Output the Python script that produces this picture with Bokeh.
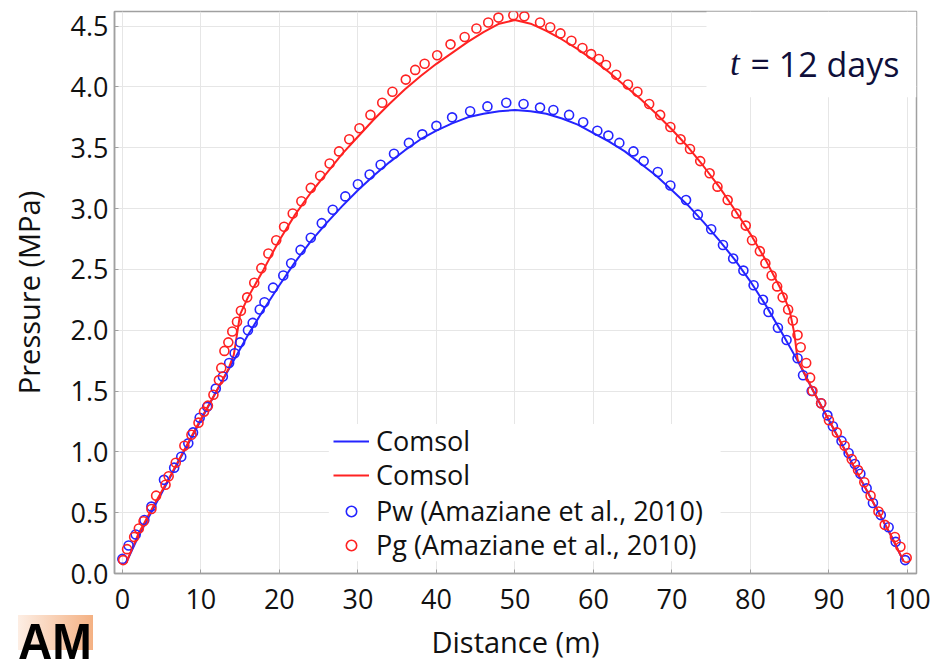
from bokeh.plotting import figure
from bokeh.layouts import column
from bokeh.models import (Range1d, FixedTicker, PrintfTickFormatter,
                          Legend, LegendItem, Label, BoxAnnotation, Div)
from bokeh.embed import file_html
from bokeh.resources import INLINE

# ---------------- data ----------------
x_ticks = [0, 10, 20, 30, 40, 50, 60, 70, 80, 90, 100]
y_ticks = [0.0, 0.5, 1.0, 1.5, 2.0, 2.5, 3.0, 3.5, 4.0, 4.5]
x_label = "Distance (m)"
y_label = "Pressure (MPa)"
legend_labels = ["Comsol", "Comsol", "Pw (Amaziane et al., 2010)",
                 "Pg (Amaziane et al., 2010)"]

# Comsol, water pressure (blue line)
cw_x = [0.5, 2, 4, 6, 8, 10, 12, 14, 16, 18, 20, 22, 24, 26, 28, 30, 32, 34, 36, 38,
        40, 42, 44, 46, 48, 50, 52, 54, 56, 58, 60, 62, 64, 66, 68, 70, 72, 74, 76, 78,
        80, 82, 84, 86, 88, 90, 92, 94, 96, 98, 99.5]
cw_y = [0.09, 0.30, 0.54, 0.78, 1.02, 1.26, 1.50, 1.73, 1.96, 2.17, 2.37, 2.56, 2.73, 2.88,
        3.02, 3.15, 3.27, 3.38, 3.48, 3.57, 3.64, 3.70, 3.75, 3.78, 3.80, 3.81, 3.80, 3.78,
        3.74, 3.69, 3.62, 3.55, 3.47, 3.37, 3.27, 3.15, 3.03, 2.89, 2.74, 2.58, 2.40, 2.20,
        1.98, 1.75, 1.50, 1.26, 1.02, 0.78, 0.54, 0.30, 0.10]

# Comsol, gas pressure (red line)
cg_x = [0.5, 2, 4, 6, 8, 10, 12, 13.5, 14.2, 15, 16, 18, 20, 22, 24, 26, 28, 30, 32, 34,
        36, 38, 40, 42, 44, 46, 48, 50, 52, 54, 56, 58, 60, 62, 64, 66, 68, 70, 72, 74,
        76, 78, 80, 82, 84, 85, 85.6, 86, 88, 90, 92, 94, 96, 98, 99.5]
cg_y = [0.09, 0.32, 0.56, 0.79, 1.03, 1.27, 1.50, 1.68, 1.80, 2.13, 2.27, 2.50, 2.74, 2.95,
        3.13, 3.29, 3.45, 3.59, 3.73, 3.86, 3.98, 4.09, 4.19, 4.28, 4.37, 4.45, 4.52, 4.55,
        4.52, 4.46, 4.39, 4.31, 4.22, 4.12, 4.01, 3.90, 3.78, 3.65, 3.51, 3.35, 3.18, 2.99,
        2.79, 2.57, 2.32, 2.16, 1.97, 1.76, 1.50, 1.26, 1.02, 0.78, 0.54, 0.30, 0.10]

# Pw (Amaziane et al., 2010)
pw_x = [0.0, 0.8, 1.7, 2.8, 3.7, 5.3, 6.6, 7.5, 8.4, 9.0, 9.85, 10.8, 11.9, 12.8, 13.6,
        14.3, 15.0, 16.0, 16.6, 17.5, 18.1, 19.2, 20.5, 21.5, 22.7, 24.0, 25.4, 26.8, 28.4,
        30.0, 31.5, 32.9, 34.6, 36.5, 38.2, 40.0, 42.0, 44.3, 46.5, 48.9, 51.1, 53.2, 54.9,
        56.9, 58.7, 60.5, 61.9, 63.3, 65.1, 66.4, 68.2, 69.8, 71.8, 73.3, 75.0, 76.5, 77.8,
        79.1, 80.4, 81.6, 82.3, 83.5, 84.6, 86.0, 86.7, 87.8, 89.0, 89.8, 90.5, 91.6, 92.5,
        93.3, 94.0, 94.8, 95.6, 96.6, 97.6, 98.5, 99.7]
pw_y = [0.12, 0.23, 0.32, 0.44, 0.55, 0.77, 0.87, 0.96, 1.07, 1.16, 1.28, 1.37, 1.52, 1.62,
        1.73, 1.81, 1.90, 2.00, 2.06, 2.17, 2.23, 2.35, 2.45, 2.55, 2.66, 2.76, 2.88, 2.99,
        3.10, 3.20, 3.28, 3.36, 3.45, 3.54, 3.61, 3.68, 3.75, 3.80, 3.84, 3.87, 3.86, 3.83,
        3.81, 3.77, 3.71, 3.64, 3.60, 3.54, 3.47, 3.39, 3.30, 3.19, 3.07, 2.95, 2.83, 2.70,
        2.59, 2.49, 2.37, 2.25, 2.15, 2.02, 1.92, 1.77, 1.63, 1.50, 1.40, 1.30, 1.21, 1.09,
        0.99, 0.90, 0.82, 0.70, 0.58, 0.48, 0.38, 0.26, 0.11]

# Pg (Amaziane et al., 2010)
pg_x = [0.1, 0.6, 1.5, 2.1, 2.7, 3.7, 4.3, 5.5, 5.9, 6.8, 7.9, 8.8, 9.7, 10.4, 10.9, 11.6,
        12.3, 12.6, 13.0, 13.5, 14.0, 14.6, 15.1, 15.9, 16.8, 17.7, 18.6, 19.6, 20.6, 21.7,
        22.8, 24.0, 25.2, 26.4, 27.6, 28.9, 30.2, 31.6, 33.1, 34.4, 36.1, 37.3, 38.5, 40.1,
        41.8, 43.6, 45.1, 46.6, 47.9, 49.8, 51.2, 53.2, 54.5, 55.8, 57.2, 58.6, 59.7, 60.7,
        61.6, 62.9, 64.4, 65.6, 67.1, 68.5, 69.8, 71.1, 72.3, 73.6, 74.8, 75.8, 77.1, 78.2,
        79.4, 80.2, 81.2, 81.9, 82.7, 83.4, 84.1, 84.8, 85.4, 86.0, 86.4, 87.1, 87.6, 87.9,
        89.0, 90.0, 91.0, 92.0, 92.9, 93.7, 94.5, 95.3, 96.3, 97.1, 98.4, 99.1, 99.9]
pg_y = [0.11, 0.20, 0.30, 0.37, 0.43, 0.53, 0.64, 0.73, 0.80, 0.91, 1.05, 1.14, 1.24, 1.33,
        1.38, 1.47, 1.59, 1.69, 1.83, 1.90, 1.99, 2.07, 2.16, 2.27, 2.39, 2.51, 2.63, 2.74,
        2.85, 2.96, 3.06, 3.17, 3.27, 3.37, 3.47, 3.57, 3.66, 3.77, 3.87, 3.96, 4.06, 4.14,
        4.19, 4.26, 4.35, 4.41, 4.48, 4.53, 4.57, 4.59, 4.58, 4.53, 4.49, 4.44, 4.38, 4.32,
        4.27, 4.23, 4.18, 4.10, 4.02, 3.96, 3.86, 3.77, 3.67, 3.57, 3.49, 3.39, 3.29, 3.18,
        3.07, 2.96, 2.86, 2.74, 2.65, 2.55, 2.45, 2.36, 2.27, 2.17, 2.08, 1.96, 1.86, 1.73,
        1.61, 1.50, 1.40, 1.26, 1.16, 1.05, 0.94, 0.85, 0.75, 0.64, 0.51, 0.40, 0.30, 0.22,
        0.13]

BLUE = "#2424ff"
RED = "#ff2222"
FONT = "Open Sans"

# ---------------- main figure ----------------
p = figure(width=939, height=663, output_backend="svg", toolbar_location=None,
           x_range=Range1d(-1.0, 101.15), y_range=Range1d(0.0, 4.62),
           min_border_left=114, min_border_right=23, min_border_top=11,
           min_border_bottom=88)
p.background_fill_color = "white"
p.border_fill_color = "white"
p.outline_line_color = "#a0a0a0"
p.outline_line_width = 1.5

for ax in (p.xaxis[0], p.yaxis[0]):
    ax.axis_line_color = "#a0a0a0"
    ax.axis_line_width = 1.5
    ax.major_tick_line_color = "#a0a0a0"
    ax.major_tick_in = 4
    ax.major_tick_out = 0
    ax.minor_tick_line_color = None
    ax.major_label_text_font = FONT
    ax.major_label_text_font_size = "27px"
    ax.major_label_text_color = "#111111"
    ax.axis_label_text_font = FONT
    ax.axis_label_text_font_size = "29px"
    ax.axis_label_text_font_style = "normal"
    ax.axis_label_text_color = "#111111"

p.xaxis.ticker = FixedTicker(ticks=x_ticks)
p.yaxis.ticker = FixedTicker(ticks=y_ticks)
p.yaxis.formatter = PrintfTickFormatter(format="%.1f")
p.xaxis.axis_label = x_label
p.yaxis.axis_label = y_label
p.xaxis.major_label_standoff = 15
p.xaxis.axis_label_standoff = 10
p.yaxis.major_label_standoff = 6
p.yaxis.axis_label_standoff = 20

p.xgrid.ticker = FixedTicker(ticks=x_ticks)
p.ygrid.ticker = FixedTicker(ticks=y_ticks)
p.grid.grid_line_color = "#e6e6e6"
p.grid.grid_line_width = 1

lw = p.line(cw_x, cw_y, line_color=BLUE, line_width=2)
lg = p.line(cg_x, cg_y, line_color=RED, line_width=2)
sw = p.scatter(pw_x, pw_y, marker="circle", size=9, fill_color=None,
               line_color=BLUE, line_width=1.6)
sg = p.scatter(pg_x, pg_y, marker="circle", size=9, fill_color=None,
               line_color=RED, line_width=1.6)

# white panel behind the legend
p.add_layout(BoxAnnotation(left=26.3, right=76.2, bottom=0.10, top=1.23,
                           fill_color="white", fill_alpha=1, line_alpha=0))

# one legend per row, so that the rows sit as tightly as in the reference
row_offsets = [114, 80, 44, 10]
for lab, rend, yoff in zip(legend_labels, [lw, lg, sw, sg], row_offsets):
    lg_i = Legend(items=[LegendItem(label=lab, renderers=[rend])], location=(219, yoff))
    lg_i.label_text_font = FONT
    lg_i.label_text_font_size = "27px"
    lg_i.label_text_color = "#111111"
    lg_i.glyph_width = 36
    lg_i.glyph_height = 26
    lg_i.label_height = 26
    lg_i.padding = 0
    lg_i.margin = 0
    lg_i.label_standoff = 7
    lg_i.border_line_alpha = 0
    lg_i.background_fill_alpha = 0
    p.add_layout(lg_i)

# "t = 12 days" box
p.add_layout(BoxAnnotation(left=74.4, bottom=3.915, fill_color="white", fill_alpha=1,
                           line_alpha=0))
p.add_layout(Label(x=77.4, y=4.19, text="t", text_font="Liberation Serif",
                   text_font_style="italic", text_font_size="35px",
                   text_color="#0f0f3a", text_baseline="alphabetic"))
p.add_layout(Label(x=80.0, y=4.19, text="= 12 days", text_font=FONT,
                   text_font_size="34px", text_color="#0f0f3a",
                   text_baseline="alphabetic"))

# ---------------- watermark logo (bottom-left corner) ----------------
logo = Div(
    text=("<div style='position:relative;width:75px;height:48px;overflow:hidden;'>"
          "<div style='position:absolute;left:0;top:0;width:75px;height:35px;"
          "background:linear-gradient(to right,#fdeee4,#f4b183);'></div>"
          "<span style='position:absolute;left:0;top:6px;font-family:\"Liberation Sans\";"
          "font-weight:bold;font-size:50px;line-height:42px;color:black;"
          "display:inline-block;transform:scaleX(0.95);transform-origin:left top;'>"
          "AM</span></div>"),
    width=75, height=48, margin=(-48, 0, 0, 18),
    styles={"z-index": "10", "position": "relative"})

layout = column(p, logo, spacing=0)
open("out.html", "w").write(file_html(layout, INLINE))
